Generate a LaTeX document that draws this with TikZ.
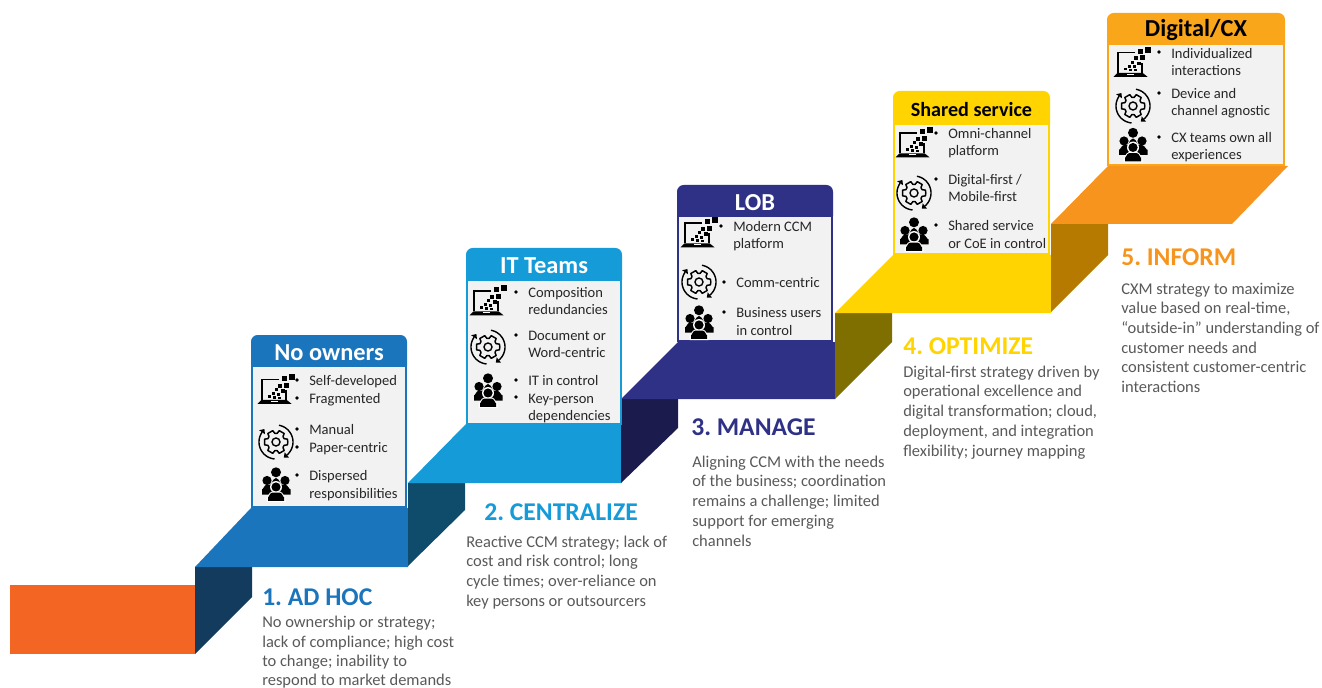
\documentclass[tikz,border=0pt]{standalone}
\usepackage{fontspec}
\setmainfont{Carlito}
\definecolor{cOrange}{HTML}{F26522}
\definecolor{cBlueA}{HTML}{1B75BC}
\definecolor{cSideA}{HTML}{123B5D}
\definecolor{cBlueB}{HTML}{169BD9}
\definecolor{cSideB}{HTML}{0F4C6C}
\definecolor{cBlueC}{HTML}{2E3186}
\definecolor{cSideC}{HTML}{1B1B4D}
\definecolor{cYel}{HTML}{FFD400}
\definecolor{cSideD}{HTML}{7F6F00}
\definecolor{cAmb}{HTML}{F7941E}
\definecolor{cHeadE}{HTML}{FAA61A}
\definecolor{cSideE}{HTML}{B67A00}
\definecolor{cBody}{HTML}{F2F2F2}
\definecolor{cGrey}{HTML}{595959}
\definecolor{cCard}{HTML}{262626}
\newcommand\cardfont{\frenchspacing\fontsize{10.9}{13.3}\selectfont}
\newcommand\descfont{\frenchspacing\fontsize{12.35}{14.8}\selectfont}
\newcommand\descfonttight{\frenchspacing\fontsize{12.35}{14.4}\selectfont}
\newcommand\headfont{\frenchspacing\fontsize{19.2}{21}\selectfont\bfseries}
\newcommand\titlefont{\frenchspacing\fontsize{18.3}{20}\selectfont\bfseries}
\tikzset{
  x=0.75pt,y=-0.75pt,
  blk/.style={anchor=north west,inner sep=0pt,align=left,yshift=10pt},
  cardtxt/.style={blk,text=cCard,font=\cardfont},
  desctxt/.style={blk,text=cGrey,font=\descfont},
  headtxt/.style={anchor=base west,inner sep=0pt,font=\headfont},
  titletxt/.style={anchor=center,inner sep=0pt,font=\titlefont},
  bul/.style={circle,fill=black,inner sep=0pt,minimum size=2.8pt},
  laptop/.pic={
    \draw[line width=1.1pt] (4,-10.5) -- (-13,-10.5) -- (-13,10);
    \draw[line width=1.1pt] (11,0) -- (11,10);
    \fill (-17.5,13.8) -- (-13.5,9.8) -- (11.5,9.8) -- (16.5,13.8) -- cycle;
    \fill (14,-16) rectangle (20,-10);
    \fill (7,-14) rectangle (12,-9);
    \fill (9,-7.5) rectangle (14,-2.5);
    \fill (3,-6.5) rectangle (7,-2.5);
    \fill (6,-1) rectangle (9.5,2.5);
    \fill (0,-2) rectangle (3,1);
    \fill (-3,2) rectangle (0,5);
    \fill (2,2.5) rectangle (5,5.5);
    \fill (-7,5) rectangle (-4,7.5);
    \fill (-2,6) rectangle (1,8.5);
    \fill (3,6.5) rectangle (6,8.5);
    \fill[white] (-4,10.6) rectangle (3,11.8);
  },
  gearicon/.pic={
    \draw[line width=1.1pt,line join=round]
      (0:11.8) -- (14:11.8) -- (22:8.8) -- (38:8.8) -- (46:11.8) -- (74:11.8) -- (82:8.8) -- (98:8.8)
      -- (106:11.8) -- (134:11.8) -- (142:8.8) -- (158:8.8) -- (166:11.8) -- (194:11.8) -- (202:8.8)
      -- (218:8.8) -- (226:11.8) -- (254:11.8) -- (262:8.8) -- (278:8.8) -- (286:11.8) -- (314:11.8)
      -- (322:8.8) -- (338:8.8) -- (346:11.8) -- cycle;
    \draw[line width=1.05pt] (0,0) circle[radius=4];
    \draw[line width=1.05pt] plot[domain=-80:50,samples=30,smooth] ({17*cos(\x)},{17*sin(\x)});
    \draw[line width=1.05pt] plot[domain=95:215,samples=30,smooth] ({17*cos(\x)},{17*sin(\x)});
    \fill (7.8,15.6) -- (13.1,15.7) -- (8.7,10.3) -- cycle;
    \fill (-11.6,-13) -- (-11,-7.75) -- (-16.8,-11.75) -- cycle;
  },
  peopleicon/.pic={
    \fill (0,-12.7) circle[radius=5];
    \fill (-9,-4.5) circle[radius=4.6];
    \fill (9,-4.5) circle[radius=4.6];
    \fill (-14,9.5) -- (-14,4) to[out=-90,in=180] (-9,-.5) -- (9,-.5) to[out=0,in=-90] (14.5,4) -- (14.5,9.5) -- cycle;
    \fill (-6,0) to[out=-90,in=180] (0,-7) to[out=0,in=-90] (6,0) -- cycle;
    \fill[white] (0,2) circle[radius=6];
    \fill (0,2) circle[radius=4.6];
    \fill[white] (-9.5,17) -- (-9.5,12) to[out=-90,in=180] (-4,6.5) -- (4,6.5) to[out=0,in=-90] (9.5,12) -- (9.5,17) -- cycle;
    \fill (-8,15.8) -- (-8,12) to[out=-90,in=180] (-4,7.7) -- (4,7.7) to[out=0,in=-90] (8,12) -- (8,15.8) -- cycle;
  },
}
% name, x1, ytop, yhead, ybottom, x2, colour, title colour, title
\newcommand\mycard[9]{
  \fill[#7] (#2,#4) [rounded corners=5pt] -- (#2,#3) -- (#6,#3) [sharp corners] -- (#6,#4) -- cycle;
  \draw[#7,line width=1.2pt,fill=cBody] (#2+.8,#4) rectangle (#6-.8,#5);
  \node[titletxt,text=#8] (#1) at ({(#2+#6)/2},{(#3+#4)/2+2}) {#9};
}
\begin{document}
\begin{tikzpicture}
\useasboundingbox (0,0) rectangle (1322,688);
% stairs
\fill[cOrange] (10,585) rectangle (195,654);
\fill[cSideA] (195,567) -- (252,567) -- (252,597) -- (195,654) -- cycle;
\fill[cBlueA] (195,567) -- (251,508) -- (408,508) -- (408,567) -- cycle;
\fill[cSideB] (408,483) -- (465,483) -- (465,510) -- (408,566) -- cycle;
\fill[cBlueB] (408,483) -- (466,424) -- (621,424) -- (621,483) -- cycle;
\fill[cSideC] (621,399) -- (678,399) -- (678,428) -- (621,483) -- cycle;
\fill[cBlueC] (621,399) -- (678,342) -- (835,342) -- (835,399) -- cycle;
\fill[cSideD] (835,313) -- (892,313) -- (892,342) -- (835,399) -- cycle;
\fill[cYel] (835,313) -- (893,255) -- (1051,255) -- (1051,313) -- cycle;
\fill[cSideE] (1051,224) -- (1108,224) -- (1108,255) -- (1051,312) -- cycle;
\fill[cAmb] (1051,224) -- (1108,166) -- (1288,166) -- (1232,224) -- cycle;
% cards
\mycard{ta}{251}{335}{366}{507}{407}{cBlueA}{white}{No owners}
\mycard{tb}{466}{248}{280}{424}{622}{cBlueB}{white}{IT Teams}
\mycard{tc}{677}{185}{216}{341}{833}{cBlueC}{white}{LOB}
\mycard{td}{893}{91}{124}{254}{1050}{cYel}{black}{\fontsize{15.1}{17}\selectfont Shared service}
\mycard{te}{1107}{13}{44}{165}{1285}{cHeadE}{black}{Digital/CX}
% icons
\pic at (275,390) {laptop}; \pic at (276,442) {gearicon}; \pic at (276,485) {peopleicon};
\pic at (487,301.5) {laptop}; \pic at (488,347) {gearicon}; \pic at (488,391) {peopleicon};
\pic at (698,233.5) {laptop}; \pic at (699,282) {gearicon}; \pic at (699,323) {peopleicon};
\pic at (913,143.5) {laptop}; \pic at (914,193) {gearicon}; \pic at (914,235) {peopleicon};
\pic at (1131,63) {laptop}; \pic at (1133,106) {gearicon}; \pic at (1133,145.5) {peopleicon};
% card 1
\node[bul] (ba1) at (297,380) {}; \node[bul] (ba2) at (297,398) {};
\node[bul] (ba3) at (297,429) {}; \node[bul] (ba4) at (297,447) {};
\node[bul] (ba5) at (297,475) {};
\node[cardtxt] (xa1) at (309,385) {\rule{0pt}{10pt}Self-developed\\Fragmented};
\node[cardtxt] (xa2) at (309,434) {\rule{0pt}{10pt}Manual\\Paper-centric};
\node[cardtxt] (xa3) at (309,480) {\rule{0pt}{10pt}Dispersed\\responsibilities};
% card 2
\node[bul] (bb1) at (516,292) {}; \node[bul] (bb2) at (516,335) {};
\node[bul] (bb3) at (516,380) {}; \node[bul] (bb4) at (516,397) {};
\node[cardtxt] (xb1) at (528,297) {\rule{0pt}{10pt}Composition\\redundancies};
\node[cardtxt] (xb2) at (528,340) {\rule{0pt}{10pt}Document or\\Word-centric};
\node[cardtxt] (xb3) at (528,385) {\rule{0pt}{10pt}IT in control\\Key-person\\dependencies};
% card 3
\node[bul] (bc1) at (721,226) {}; \node[bul] (bc2) at (724,282) {}; \node[bul] (bc3) at (724,312) {};
\node[cardtxt] (xc1) at (733,231) {\rule{0pt}{10pt}Modern CCM\\platform};
\node[cardtxt] (xc2) at (736,287) {\rule{0pt}{10pt}Comm-centric};
\node[cardtxt] (xc3) at (736,317) {\rule{0pt}{10pt}Business users\\in control};
% card 4
\node[bul] (bd1) at (936,133) {}; \node[bul] (bd2) at (936,179) {}; \node[bul] (bd3) at (936,225) {};
\node[cardtxt] (xd1) at (948,138) {\rule{0pt}{10pt}Omni-channel\\platform};
\node[cardtxt] (xd2) at (948,184) {\rule{0pt}{10pt}Digital-first /\\Mobile-first};
\node[cardtxt] (xd3) at (948,230) {\rule{0pt}{10pt}Shared service\\or CoE in control};
% card 5
\node[bul] (be1) at (1159,52) {}; \node[bul] (be2) at (1159,93) {}; \node[bul] (be3) at (1159,137) {};
\node[cardtxt] (xe1) at (1171,58) {\rule{0pt}{10pt}Individualized\\interactions};
\node[cardtxt] (xe2) at (1171,98) {\rule{0pt}{10pt}Device and\\channel agnostic};
\node[cardtxt] (xe3) at (1171,142) {\rule{0pt}{10pt}CX teams own all\\experiences};
% headings
\node[headtxt,text=cBlueA] (ha) at (262,605.5) {1. AD HOC};
\node[headtxt,text=cBlueB] (hb) at (484,520.7) {2. CENTRALIZE};
\node[headtxt,text=cBlueC] (hc) at (691,435) {3. MANAGE};
\node[headtxt,text=cYel] (hd) at (903,354) {4. OPTIMIZE};
\node[headtxt,text=cAmb] (he) at (1121,266) {5. INFORM};
% descriptions
\node[desctxt,font=\descfonttight] (da) at (262,627.6) {\rule{0pt}{10pt}No ownership or strategy;\\lack of compliance; high cost\\to change; inability to\\respond to market demands};
\node[desctxt] (db) at (466,546.8) {\rule{0pt}{10pt}Reactive CCM strategy; lack of\\cost and risk control; long\\cycle times; over-reliance on\\key persons or outsourcers};
\node[desctxt] (dc) at (692,466.8) {\rule{0pt}{10pt}Aligning CCM with the needs\\of the business; coordination\\remains a challenge; limited\\support for emerging\\channels};
\node[desctxt] (dd) at (903,376.8) {\rule{0pt}{10pt}Digital-first strategy driven by\\operational excellence and\\digital transformation; cloud,\\deployment, and integration\\flexibility; journey mapping};
\node[desctxt] (de) at (1121,293.8) {\rule{0pt}{10pt}CXM strategy to maximize\\value based on real-time,\\“outside-in” understanding of\\customer needs and\\consistent customer-centric\\interactions};
\end{tikzpicture}
\end{document}
